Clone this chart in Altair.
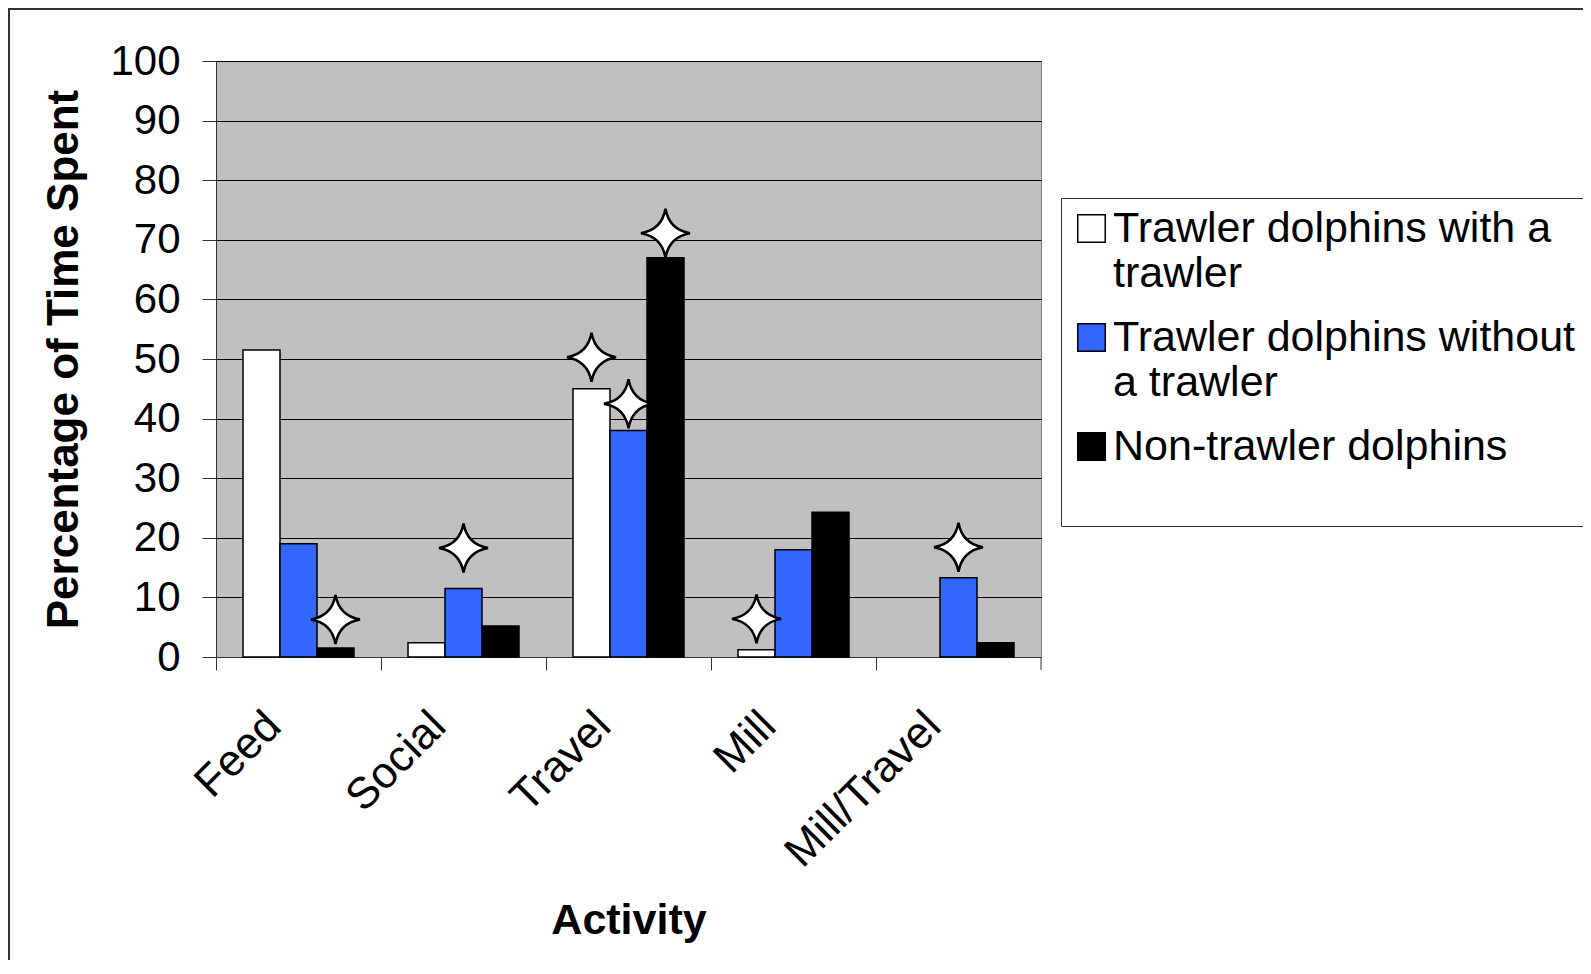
import altair as alt
import pandas as pd

# ---- data ----
activities = ["Feed", "Social", "Travel", "Mill", "Mill/Travel"]
series = [
    "Trawler dolphins with a trawler",
    "Trawler dolphins without a trawler",
    "Non-trawler dolphins",
]
legend_lines = [
    ["Trawler dolphins with a", "trawler"],
    ["Trawler dolphins without", "a trawler"],
    ["Non-trawler dolphins"],
]
with_trawler = [51.5, 2.4, 45.0, 1.2, 0.0]
without_trawler = [19.0, 11.5, 38.0, 18.0, 13.3]
non_trawler = [1.5, 5.2, 67.0, 24.3, 2.4]
series_colors = ["#ffffff", "#3366ff", "#000000"]

# significance stars (activity, series index, height in % units)
star_activity = ["Feed", "Social", "Travel", "Travel", "Travel", "Mill", "Mill/Travel"]
star_series = [2, 1, 0, 1, 2, 0, 1]
star_value = [6.3, 18.3, 50.3, 42.5, 71.1, 6.4, 18.4]

y_ticks = list(range(0, 101, 10))

# ---- tables ----
rows = []
for s, vals in zip(series, [with_trawler, without_trawler, non_trawler]):
    for a, v in zip(activities, vals):
        rows.append({"Activity": a, "Series": s, "Value": v})
df = pd.DataFrame(rows)
stars = pd.DataFrame({
    "Activity": star_activity,
    "Series": [series[i] for i in star_series],
    "Value": star_value,
})

W, H = 825, 596
FONT = "Liberation Sans"
STAR = ("M0,-1 Q0.15,-0.15 1,0 Q0.15,0.15 0,1 "
        "Q-0.15,0.15 -1,0 Q-0.15,-0.15 0,-1 Z")
LABEL_SHIFT = 25  # labels sit a little left of the category centre

label_expr = ""
for name, lines in zip(series, legend_lines):
    arr = "[" + ", ".join("'" + l + "'" for l in lines) + "]"
    label_expr += f"datum.label == '{name}' ? {arr} : "
label_expr += "datum.label"

x_enc = alt.X(
    "Activity:N", sort=activities,
    scale=alt.Scale(domain=activities, paddingInner=0, paddingOuter=0),
    axis=alt.Axis(
        title="Activity", titleFont=FONT, titleFontSize=43, titleFontWeight="bold",
        titleColor="black", titleX=W / 2, titleY=276, titleBaseline="alphabetic",
        titleAlign="center",
        labelAngle=315, labelAlign="right", labelBaseline="middle",
        labelFont=FONT, labelFontSize=44, labelColor="black", labelLimit=1000,
        labelPadding=49, labelOffset=0,
        tickOffset=-LABEL_SHIFT, bandPosition=LABEL_SHIFT / (W / len(activities)),
        tickSize=13, tickColor="#333", domainColor="#333", grid=False,
    ),
)
xo_enc = alt.XOffset(
    "Series:N", sort=series,
    scale=alt.Scale(domain=series, paddingInner=0, paddingOuter=0.73),
)
y_enc = alt.Y(
    "Value:Q",
    scale=alt.Scale(domain=[0, 100], nice=False),
    axis=alt.Axis(
        values=y_ticks, title="Percentage of Time Spent",
        titleFont=FONT, titleFontSize=44, titleFontWeight="bold", titleColor="black",
        titleX=-130, titleY=H / 2, titleAngle=270, titleBaseline="bottom",
        titleAlign="center",
        labelFont=FONT, labelFontSize=42, labelColor="black", labelPadding=22,
        tickSize=14, tickColor="#333", domainColor="#333",
        grid=True, gridColor="black", gridWidth=1,
    ),
)
color_enc = alt.Color(
    "Series:N",
    scale=alt.Scale(domain=series, range=series_colors),
    legend=alt.Legend(
        title=" ", titleOrient="bottom", titleFontSize=34, titlePadding=14,
        orient="none", legendX=845, legendY=137, direction="vertical",
        strokeColor="#333", fillColor="white", padding=9,
        labelFont=FONT, labelFontSize=43, labelColor="black", labelLimit=2000,
        labelOffset=0, labelExpr=label_expr,
        symbolType="square", symbolSize=756, symbolStrokeColor="black",
        symbolStrokeWidth=1.5, symbolOpacity=1, rowPadding=20,
    ),
)

frame = alt.Chart(pd.DataFrame({"f": [0]})).mark_rect(
    fillOpacity=0, stroke="#333", strokeWidth=2
).encode(
    x=alt.value(-207), x2=alt.value(1500), y=alt.value(-52), y2=alt.value(1200)
)

bars = alt.Chart(df).transform_filter("datum.Value > 0").mark_bar(
    stroke="black", strokeWidth=1.5, opacity=1
).encode(x=x_enc, xOffset=xo_enc, y=y_enc, color=color_enc)

end_tick = alt.Chart(pd.DataFrame({"Activity": [activities[-1]]})).mark_rule(
    color="#333", strokeWidth=1
).encode(
    x=alt.X("Activity:N", sort=activities, bandPosition=1),
    y=alt.value(H), y2=alt.value(H + 13),
)

star_pts = alt.Chart(stars).mark_point(
    shape=STAR, size=2401, filled=True, fill="white", fillOpacity=1,
    stroke="black", strokeWidth=2.5, strokeOpacity=1, opacity=1,
).encode(
    x=alt.X("Activity:N", sort=activities),
    xOffset=alt.XOffset("Series:N", sort=series),
    y=alt.Y("Value:Q"),
)

chart = alt.layer(frame, bars, end_tick, star_pts).properties(
    width=W, height=H,
    padding={"left": 208, "top": 53, "right": 542, "bottom": 303},
    autosize=alt.AutoSizeParams(type="none"),
).configure(font=FONT).configure_view(
    fill="#c0c0c0", stroke="#808080", strokeWidth=1
)

chart.save("out.html", embed_options={"renderer": "svg", "actions": False})
